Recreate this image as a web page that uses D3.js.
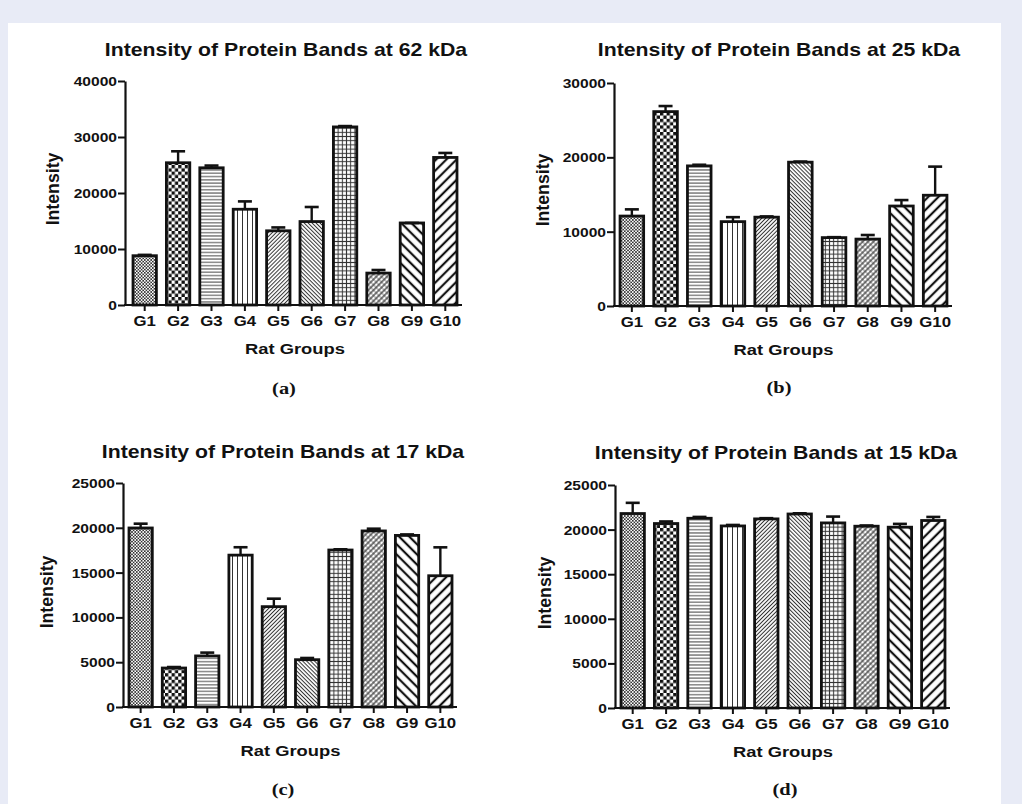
<!DOCTYPE html>
<html>
<head>
<meta charset="utf-8">
<script src="https://cdn.jsdelivr.net/npm/d3@7"></script>
<style>
  html, body { margin: 0; padding: 0; background: #e8ebf6; }
  svg { display: block; }
</style>
</head>
<body>
<div id="chart"></div>
<script>
// Data: mean intensity and SEM per rat group
const groups = ["G1", "G2", "G3", "G4", "G5", "G6", "G7", "G8", "G9", "G10"];

const titles = [
  "Intensity of Protein Bands at 62 kDa",
  "Intensity of Protein Bands at 25 kDa",
  "Intensity of Protein Bands at 17 kDa",
  "Intensity of Protein Bands at 15 kDa"
];
const panelLabels = ["(a)", "(b)", "(c)", "(d)"];

const values62 = [8800, 25400, 24500, 17100, 13250, 14900, 31800, 5700, 14650, 26350];
const sem62    = [150, 2050, 400, 1400, 600, 2600, 150, 550, 0, 800];

const values25 = [12100, 26150, 18850, 11350, 11950, 19350, 9200, 9000, 13450, 14900];
const sem25    = [900, 750, 150, 600, 100, 80, 60, 550, 800, 3850];

const values17 = [19980, 4350, 5700, 16950, 11200, 5280, 17520, 19650, 19150, 14650];
const sem17    = [480, 110, 370, 880, 890, 190, 80, 250, 110, 3170];

const values15 = [21800, 20680, 21270, 20410, 21200, 21750, 20750, 20380, 20270, 21020];
const sem15    = [1200, 230, 150, 110, 80, 80, 710, 80, 370, 400];

const yMaxes = [40000, 30000, 25000, 25000];
const yTickSteps = [10000, 10000, 5000, 5000];

const allValues = [values62, values25, values17, values15];
const allSems = [sem62, sem25, sem17, sem15];

// Page layout for each panel (pixels)
const layouts = [
  { axisX: 125, range: [128, 462], top: 81,  zero: 305, titleX: 286, titleY: 56,  ylabX: 59,  ylabY: 189, labelX: 284, labelY: 394 },
  { axisX: 614, range: [615, 952], top: 83,  zero: 306, titleX: 779, titleY: 56,  ylabX: 549, ylabY: 190, labelX: 779, labelY: 393 },
  { axisX: 123, range: [124, 457], top: 483, zero: 707, titleX: 283, titleY: 458, ylabX: 53,  ylabY: 592, labelX: 283, labelY: 795 },
  { axisX: 615, range: [616, 950], top: 485, zero: 708, titleX: 776, titleY: 459, ylabX: 551, ylabY: 593, labelX: 785, labelY: 795 }
];

const W = 1022, H = 804;
const SX = 1.2; // horizontal text stretch seen in the figure
const SANS = "'Liberation Sans', Arial, Helvetica, sans-serif";
const SERIF = "'Liberation Serif', 'Times New Roman', serif";

const svg = d3.select("#chart").append("svg")
  .attr("width", W)
  .attr("height", H);

svg.append("rect")
  .attr("x", 8).attr("y", 23)
  .attr("width", 993).attr("height", H - 23)
  .attr("fill", "#ffffff");

// Hatch patterns, one per group
const defs = svg.append("defs");

function linePattern(id, size, angle, strokeW, color, crossW) {
  const p = defs.append("pattern")
    .attr("id", id)
    .attr("patternUnits", "userSpaceOnUse")
    .attr("width", size).attr("height", size)
    .attr("patternTransform", `rotate(${angle})`);
  p.append("rect").attr("width", size).attr("height", size).attr("fill", "#fff");
  p.append("line")
    .attr("x1", 0).attr("y1", size / 2).attr("x2", size).attr("y2", size / 2)
    .attr("stroke", color).attr("stroke-width", strokeW);
  if (crossW) {
    p.append("line")
      .attr("x1", size / 2).attr("y1", 0).attr("x2", size / 2).attr("y2", size)
      .attr("stroke", color).attr("stroke-width", crossW);
  }
}

function checkPattern(id, cell, color) {
  const p = defs.append("pattern")
    .attr("id", id)
    .attr("patternUnits", "userSpaceOnUse")
    .attr("width", cell * 2).attr("height", cell * 2);
  p.append("rect").attr("width", cell * 2).attr("height", cell * 2).attr("fill", "#fff");
  p.append("rect").attr("width", cell).attr("height", cell).attr("fill", color);
  p.append("rect").attr("x", cell).attr("y", cell).attr("width", cell).attr("height", cell).attr("fill", color);
}

checkPattern("pat0", 1.6, "#333");                // G1 fine checker
checkPattern("pat1", 3.3, "#111");                // G2 coarse checker
linePattern("pat2", 3.3, 0, 1, "#444");           // G3 horizontal
linePattern("pat3", 5, 90, 1, "#333");            // G4 vertical
linePattern("pat4", 2.8, -45, 1, "#333");         // G5 fine /
linePattern("pat5", 2.8, 45, 1, "#333");          // G6 fine \
linePattern("pat6", 4.2, 0, 1, "#333", 1);        // G7 grid
linePattern("pat7", 3.8, -45, 1.2, "#333", 0.6);  // G8 diagonal cross
linePattern("pat8", 7.2, 45, 2.2, "#111");        // G9 wide \
linePattern("pat9", 7.2, -45, 2.2, "#111");       // G10 wide /

function stretchedText(g, x, y, str, size, anchor, family) {
  return g.append("text")
    .attr("transform", `translate(${x},${y}) scale(${SX},1)`)
    .attr("text-anchor", anchor)
    .attr("font-family", family || SANS)
    .attr("font-weight", "bold")
    .attr("font-size", size)
    .attr("fill", "#111")
    .text(str);
}

allValues.forEach((vals, pi) => {
  const L = layouts[pi];
  const sems = allSems[pi];
  const g = svg.append("g");

  const x = d3.scaleBand()
    .domain(groups)
    .range(L.range)
    .paddingInner(0.3)
    .paddingOuter(0.15);

  const y = d3.scaleLinear()
    .domain([0, yMaxes[pi]])
    .range([L.zero, L.top]);

  // Bars
  g.selectAll(".bar")
    .data(vals)
    .enter()
    .append("rect")
    .attr("class", "bar")
    .attr("x", (d, i) => x(groups[i]))
    .attr("y", d => y(d))
    .attr("width", x.bandwidth())
    .attr("height", d => y(0) - y(d))
    .attr("fill", (d, i) => `url(#pat${i})`)
    .attr("stroke", "#111")
    .attr("stroke-width", 2.8);

  // Error bars (upper only)
  const capW = 14;
  const err = g.selectAll(".err")
    .data(vals)
    .enter()
    .append("g")
    .attr("class", "err")
    .attr("transform", (d, i) => `translate(${x(groups[i]) + x.bandwidth() / 2},0)`);
  err.append("line")
    .attr("x1", 0).attr("x2", 0)
    .attr("y1", d => y(d))
    .attr("y2", (d, i) => y(d + sems[i]))
    .attr("stroke", "#111").attr("stroke-width", 2.4);
  err.append("line")
    .attr("x1", -capW / 2).attr("x2", capW / 2)
    .attr("y1", (d, i) => y(d + sems[i]))
    .attr("y2", (d, i) => y(d + sems[i]))
    .attr("stroke", "#111").attr("stroke-width", 2.6);

  // Y axis
  const yAxis = g.append("g")
    .attr("transform", `translate(${L.axisX},0)`)
    .call(d3.axisLeft(y)
      .tickValues(d3.range(0, yMaxes[pi] + 1, yTickSteps[pi]))
      .tickFormat(d3.format("d"))
      .tickSize(7)
      .tickSizeOuter(0)
      .tickPadding(1));
  yAxis.select(".domain").attr("stroke", "#111").attr("stroke-width", 2.2);
  yAxis.selectAll(".tick line").attr("stroke", "#111").attr("stroke-width", 2);
  yAxis.selectAll(".tick text")
    .attr("x", -8 / SX)
    .attr("dy", "0.35em")
    .attr("transform", `scale(${SX},1)`)
    .attr("font-family", SANS)
    .attr("font-weight", "bold")
    .attr("font-size", 13)
    .attr("fill", "#111");

  // X axis
  const xAxis = g.append("g")
    .attr("transform", `translate(0,${L.zero})`)
    .call(d3.axisBottom(x).tickSize(6).tickSizeOuter(0).tickPadding(5));
  xAxis.select(".domain").remove();
  xAxis.append("line")
    .attr("x1", L.axisX - 1).attr("x2", L.range[1])
    .attr("y1", 0).attr("y2", 0)
    .attr("stroke", "#111").attr("stroke-width", 2.2);
  xAxis.selectAll(".tick line").attr("stroke", "#111").attr("stroke-width", 2);
  xAxis.selectAll(".tick text")
    .attr("transform", `scale(${SX},1)`)
    .attr("font-family", SANS)
    .attr("font-weight", "bold")
    .attr("font-size", 14)
    .attr("fill", "#111");

  // Titles and labels
  stretchedText(g, L.titleX, L.titleY, titles[pi], 17.7, "middle");
  stretchedText(g, (L.range[0] + L.range[1]) / 2, L.zero + 49, "Rat Groups", 15.3, "middle");
  stretchedText(g, L.labelX, L.labelY, panelLabels[pi], 17, "middle", SERIF);

  g.append("text")
    .attr("transform", `translate(${L.ylabX},${L.ylabY}) rotate(-90)`)
    .attr("text-anchor", "middle")
    .attr("font-family", SANS)
    .attr("font-weight", "bold")
    .attr("font-size", 17.7)
    .attr("fill", "#111")
    .text("Intensity");
});
</script>
</body>
</html>
